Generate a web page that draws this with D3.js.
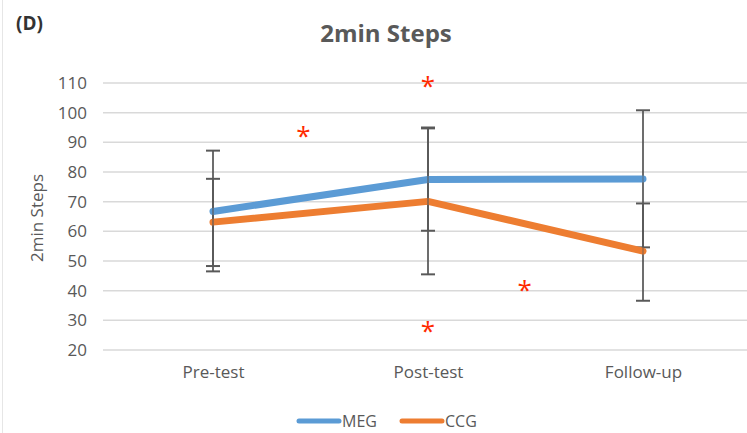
<!DOCTYPE html>
<html>
<head>
<meta charset="utf-8">
<script src="https://cdn.jsdelivr.net/npm/d3@7"></script>
<style>
  body { margin: 0; background: #fff; }
  svg { display: block; font-family: "Open Sans", "Noto Sans", sans-serif; }
</style>
</head>
<body>
<div id="chart"></div>
<script>
// data
var categories = ["Pre-test", "Post-test", "Follow-up"];
var megValues = [66.7, 77.5, 77.6];
var ccgValues = [63.1, 70.1, 53.3];
// error bar ends [low, high]
var megErrors = [[46.5, 87.2], [60.2, 95.0], [54.6, 100.8]];
var ccgErrors = [[48.3, 77.7], [45.5, 94.7], [36.6, 69.4]];
var yTicks = [20, 30, 40, 50, 60, 70, 80, 90, 100, 110];
// significance marks: position between categories (index) and value
var starMarks = [
  { at: 0.42, value: 93.6 },
  { at: 1.0, value: 110.3 },
  { at: 1.0, value: 27.8 },
  { at: 1.45, value: 41.5 }
];

var W = 747, H = 433;

var svg = d3.select("#chart").append("svg")
  .attr("width", W)
  .attr("height", H);

// faint frame line on the left
svg.append("line")
  .attr("x1", 2.5).attr("x2", 2.5)
  .attr("y1", 0).attr("y2", H)
  .attr("stroke", "#e6e6e6");

var x = d3.scalePoint()
  .domain(categories)
  .range([213, 643]);

var y = d3.scaleLinear()
  .domain([20, 110])
  .range([350, 83]);

// gridlines
svg.append("g")
  .selectAll("line")
  .data(yTicks)
  .enter().append("line")
  .attr("x1", 103)
  .attr("x2", W)
  .attr("y1", function(d) { return y(d); })
  .attr("y2", function(d) { return y(d); })
  .attr("stroke", "#d9d9d9")
  .attr("stroke-width", 1.5);

// y axis labels
var yAxis = d3.axisLeft(y).tickValues(yTicks).tickSize(0).tickPadding(0);
var yg = svg.append("g")
  .attr("transform", "translate(87,0)")
  .call(yAxis);
yg.select(".domain").remove();
yg.selectAll("text")
  .attr("fill", "#595959")
  .style("font-size", "17px")
  .style("font-family", "'Open Sans', sans-serif");

// x axis labels
var xAxis = d3.axisBottom(x).tickSize(0).tickPadding(0);
var xg = svg.append("g")
  .attr("transform", "translate(0,366)")
  .call(xAxis);
xg.select(".domain").remove();
xg.selectAll("text")
  .attr("fill", "#595959")
  .style("font-size", "17px")
  .style("font-family", "'Open Sans', sans-serif");

// title
svg.append("text")
  .attr("x", 386)
  .attr("y", 42)
  .attr("text-anchor", "middle")
  .attr("fill", "#595959")
  .style("font-size", "24px")
  .style("font-weight", "bold")
  .text("2min Steps");

svg.append("text")
  .attr("x", 16)
  .attr("y", 30)
  .attr("fill", "#333")
  .style("font-size", "19px")
  .style("font-weight", "bold")
  .text("(D)");

// y axis title
svg.append("text")
  .attr("transform", "translate(43," + y(64.5) + ") rotate(-90)")
  .attr("text-anchor", "middle")
  .attr("fill", "#595959")
  .style("font-size", "17px")
  .text("2min Steps");

// series
var series = [
  { name: "MEG", values: megValues, errors: megErrors, color: "#5b9bd5" },
  { name: "CCG", values: ccgValues, errors: ccgErrors, color: "#ed7d31" }
];

var line = d3.line()
  .x(function(d, i) { return x(categories[i]); })
  .y(function(d) { return y(d); });

// error bars drawn first
series.forEach(function(s) {
  var g = svg.append("g").attr("stroke", "#595959").attr("stroke-width", 1.6);
  s.errors.forEach(function(e, i) {
    var cx = x(categories[i]);
    g.append("line")
      .attr("x1", cx).attr("x2", cx)
      .attr("y1", y(e[0])).attr("y2", y(e[1]));
    e.forEach(function(v) {
      g.append("line")
        .attr("x1", cx - 7).attr("x2", cx + 7)
        .attr("y1", y(v)).attr("y2", y(v))
        .attr("stroke-width", 2);
    });
  });
});

series.forEach(function(s) {
  svg.append("path")
    .datum(s.values)
    .attr("d", line)
    .attr("fill", "none")
    .attr("stroke", s.color)
    .attr("stroke-width", 7)
    .attr("stroke-linejoin", "round")
    .attr("stroke-linecap", "round");
});

// error bar stems show faintly over the lines in the picture
series.forEach(function(s) {
  var g = svg.append("g").attr("stroke", "#595959").attr("stroke-width", 1.2).attr("opacity", 0.6);
  s.errors.forEach(function(e, i) {
    var cx = x(categories[i]);
    g.append("line")
      .attr("x1", cx).attr("x2", cx)
      .attr("y1", y(e[0])).attr("y2", y(e[1]));
  });
});

// significance stars
var xIdx = d3.scaleLinear().domain([0, 2]).range([x(categories[0]), x(categories[2])]);
svg.append("g")
  .selectAll("text")
  .data(starMarks)
  .enter().append("text")
  .attr("x", function(d) { return xIdx(d.at); })
  .attr("y", function(d) { return y(d.value) + 13; })
  .attr("text-anchor", "middle")
  .attr("fill", "#ff2a00")
  .style("font-size", "26px")
  .text("*");

// legend
var legend = svg.append("g").attr("transform", "translate(297,421)");
var legendPos = [0, 103];
series.forEach(function(s, i) {
  var lg = legend.append("g").attr("transform", "translate(" + legendPos[i] + ",0)");
  lg.append("line")
    .attr("x1", 2).attr("x2", 42)
    .attr("y1", 0).attr("y2", 0)
    .attr("stroke", s.color)
    .attr("stroke-width", 5)
    .attr("stroke-linecap", "round");
  lg.append("text")
    .attr("x", 45)
    .attr("y", 6)
    .attr("fill", "#595959")
    .style("font-size", "16px")
    .text(s.name);
});
</script>
</body>
</html>
